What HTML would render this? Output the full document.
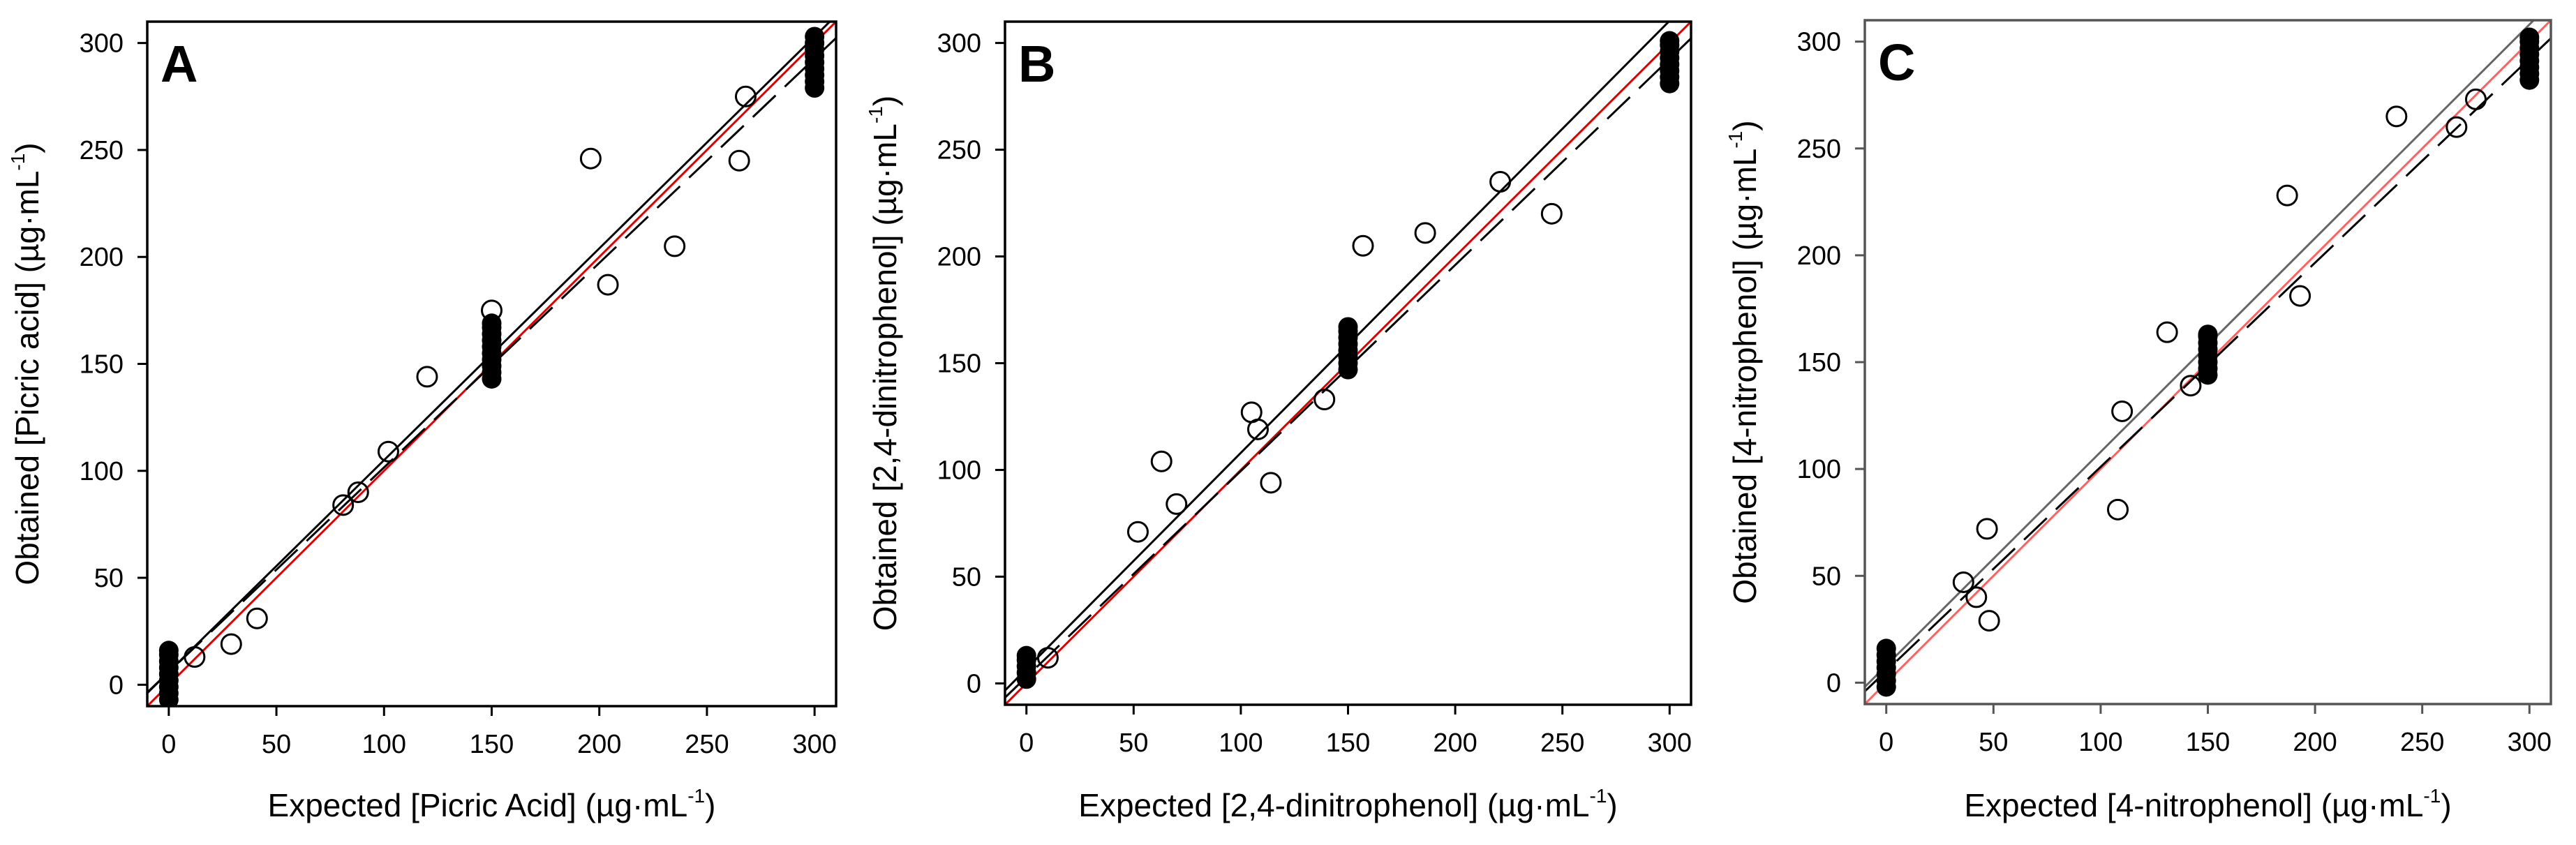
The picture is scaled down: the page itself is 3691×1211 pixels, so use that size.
<!DOCTYPE html>
<html><head><meta charset="utf-8"><style>
html,body{margin:0;padding:0;background:#fff}
svg{display:block}
text{font-family:"Liberation Sans",Arial,sans-serif;fill:#000}
</style></head><body>
<svg id="fig" width="3691" height="1211" viewBox="0 0 3691 1211" xmlns="http://www.w3.org/2000/svg"></svg>
<script>
// ---- data ----
const ticks = [0, 50, 100, 150, 200, 250, 300];
const tickLabels = ["0", "50", "100", "150", "200", "250", "300"];
const letters = ["A", "B", "C"];
const xTitles = ["Expected [Picric Acid] (\u00b5g\u00b7mL", "Expected [2,4-dinitrophenol] (\u00b5g\u00b7mL", "Expected [4-nitrophenol] (\u00b5g\u00b7mL"];
const yTitles = ["Obtained [Picric acid] (\u00b5g\u00b7mL", "Obtained [2,4-dinitrophenol] (\u00b5g\u00b7mL", "Obtained [4-nitrophenol] (\u00b5g\u00b7mL"];

const openXA = [12, 29, 41, 81, 88, 102, 120, 150, 196, 204, 235, 265, 268];
const openYA = [13, 19, 31, 84, 90, 109, 144, 175, 246, 187, 205, 245, 275];
const openXB = [10, 52, 63, 70, 105, 108, 114, 139, 157, 186, 221, 245];
const openYB = [12, 71, 104, 84, 127, 119, 94, 133, 205, 211, 235, 220];
const openXC = [36, 42, 47, 48, 108, 110, 131, 142, 187, 193, 238, 266, 275];
const openYC = [47, 40, 72, 29, 81, 127, 164, 139, 228, 181, 265, 260, 273];

const filled0A = [-7, -4, -1, 2, 5, 8, 11, 14, 16];
const filled150A = [143, 146, 149, 152, 155, 158, 161, 164, 167, 169];
const filled300A = [279, 282, 285, 288, 291, 294, 297, 300, 303];
const filled0B = [2, 5, 8, 11, 13];
const filled150B = [147, 150, 153, 156, 159, 162, 165, 167];
const filled300B = [281, 284, 287, 290, 293, 296, 299, 301];
const filled0C = [-2, 1, 4, 7, 10, 13, 16];
const filled150C = [144, 147, 150, 153, 156, 159, 162, 163];
const filled300C = [282, 285, 288, 291, 294, 297, 300, 302];

// regression lines [intercept, slope]
const solidFit = [[6, 0.99], [6.8, 1.012], [8, 1.0]];
const dashFit = [[6, 0.956], [3, 0.965], [5.5, 0.955]];

const panels = [
  {L: 211, R: 1198, T: 31, B: 1012, ox: openXA, oy: openYA, f: [filled0A, filled150A, filled300A], axis: "#000", red: "#e00000", solid: "#000"},
  {L: 1440, R: 2423, T: 31, B: 1010, ox: openXB, oy: openYB, f: [filled0B, filled150B, filled300B], axis: "#000", red: "#e00000", solid: "#000"},
  {L: 2672, R: 3655, T: 29, B: 1009, ox: openXC, oy: openYC, f: [filled0C, filled150C, filled300C], axis: "#555", red: "#ff6060", solid: "#666"}
];
const fx = [0, 150, 300];

const NS = "http://www.w3.org/2000/svg";
const svg = document.getElementById("fig");
function mk(tag, attrs, parent) {
  const e = document.createElementNS(NS, tag);
  for (const k in attrs) e.setAttribute(k, attrs[k]);
  (parent || svg).appendChild(e);
  return e;
}

panels.forEach((p, i) => {
  const g = mk("g", {});
  
  
  const sx = v => p.L + (v + 10) / 320 * (p.R - p.L);
  const sy = v => p.B - (v + 10) / 320 * (p.B - p.T);
  const clip = mk("clipPath", {id: "clip" + i}, g);
  mk("rect", {x: p.L, y: p.T, width: p.R - p.L, height: p.B - p.T}, clip);
  const plot = mk("g", {"clip-path": "url(#clip" + i + ")"}, g);

  // identity line
  const red = mk("line", {x1: sx(-10), y1: sy(-10), x2: sx(310), y2: sy(310), stroke: p.red, "stroke-width": 3}, plot);
  
  
  const [a1, b1] = solidFit[i];
  const sl = mk("line", {x1: sx(-10), y1: sy(a1 - 10 * b1), x2: sx(310), y2: sy(a1 + 310 * b1), stroke: p.solid, "stroke-width": 3}, plot);
  
  
  const [a2, b2] = dashFit[i];
  const dl = mk("line", {x1: sx(-10), y1: sy(a2 - 10 * b2), x2: sx(310), y2: sy(a2 + 310 * b2), stroke: "#000", "stroke-width": 3, "stroke-dasharray": "45 18"}, plot);
  
  

  // filled points
  p.f.forEach((arr, k) => {
    arr.forEach(v => {
      const c = mk("circle", {cx: sx(fx[k]), cy: sy(v), r: 14, fill: "#000"}, plot);
      
      
    });
  });
  // open points
  p.ox.forEach((x, k) => {
    const c = mk("circle", {cx: sx(x), cy: sy(p.oy[k]), r: 14, fill: "none", stroke: "#000", "stroke-width": 3}, plot);
    
    
  });

  // frame
  const fr = mk("rect", {x: p.L, y: p.T, width: p.R - p.L, height: p.B - p.T, fill: "none", stroke: p.axis, "stroke-width": 3.5}, g);
  
  

  // ticks
  ticks.forEach((t, k) => {
    mk("line", {x1: sx(t), y1: p.B, x2: sx(t), y2: p.B + 14, stroke: p.axis, "stroke-width": 3}, g);
    const xl = mk("text", {x: sx(t), y: p.B + 67, "font-size": 38, "text-anchor": "middle"}, g);
    xl.textContent = tickLabels[k];
    
    
    mk("line", {x1: p.L - 14, y1: sy(t), x2: p.L, y2: sy(t), stroke: p.axis, "stroke-width": 3}, g);
    const yl = mk("text", {x: p.L - 34, y: sy(t) + 13, "font-size": 38, "text-anchor": "end"}, g);
    yl.textContent = tickLabels[k];
    
    
  });

  // panel letter
  const lt = mk("text", {x: p.L + 19, y: p.T + 86, "font-size": 74, "font-weight": "bold"}, g);
  lt.textContent = letters[i];
  
  

  // x title
  const xt = mk("text", {x: (p.L + p.R) / 2, y: 1170, "font-size": 46, "text-anchor": "middle"}, g);
  xt.textContent = xTitles[i];
  const xs = mk("tspan", {"font-size": 28, dy: -20}, xt); xs.textContent = "-1";
  const xe = mk("tspan", {dy: 20}, xt); xe.textContent = ")";
  
  

  // y title
  const cy = (p.T + p.B) / 2;
  const cx = p.L - 156;
  const yt = mk("text", {x: cx, y: cy, "font-size": 46, "text-anchor": "middle", transform: "rotate(-90 " + cx + " " + cy + ")"}, g);
  yt.textContent = yTitles[i];
  const ys = mk("tspan", {"font-size": 28, dy: -20}, yt); ys.textContent = "-1";
  const ye = mk("tspan", {dy: 20}, yt); ye.textContent = ")";
  
  
});
</script>
</body></html>
